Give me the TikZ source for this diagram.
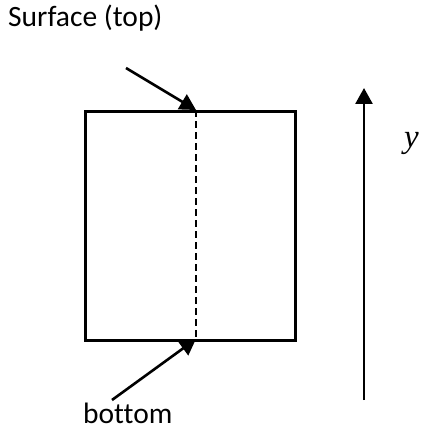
\documentclass[tikz,border=0pt]{standalone}
\usepackage{fontspec}
\setmainfont{Carlito}[Ligatures=NoCommon]
\newfontfamily\serifit{Liberation Serif}
\usetikzlibrary{arrows.meta}
\tikzset{
  ln/.style={line width=2.6pt},
  arr/.style={ln,-{Triangle[length=16pt,width=17pt]}},
  lbl/.style={font=\fontsize{29.5}{34}\selectfont, inner sep=0pt},
}
\begin{document}
\begin{tikzpicture}[x=1pt,y=-1pt]
\useasboundingbox (0,0) rectangle (422,433);
\node[draw, ln, minimum width=210pt, minimum height=229pt, inner sep=0pt, anchor=north west] (box) at (84,110) {};
\coordinate (top) at (196,110);
\coordinate (bot) at (196,339);
\draw[line width=2.2pt, dash pattern=on 7pt off 4pt] (top) -- (bot);
\node[lbl, anchor=base west] (surf) at (8,27) {Surface (top)};
\node[lbl, anchor=base west] (bottomlbl) at (83,423) {bottom};
\coordinate (ttail) at (126,68);
\coordinate (btail) at (112,400);
\draw[arr] (ttail) -- (top);
\draw[arr] (btail) -- (bot);
\coordinate (ybase) at (364,400);
\coordinate (ytip) at (364,88);
\draw[arr] (ybase) -- (ytip);
\node[font=\fontsize{33}{38}\selectfont, inner sep=0pt, anchor=base west] (ylbl) at (404,147) {\serifit\itshape y};
\end{tikzpicture}
\end{document}
